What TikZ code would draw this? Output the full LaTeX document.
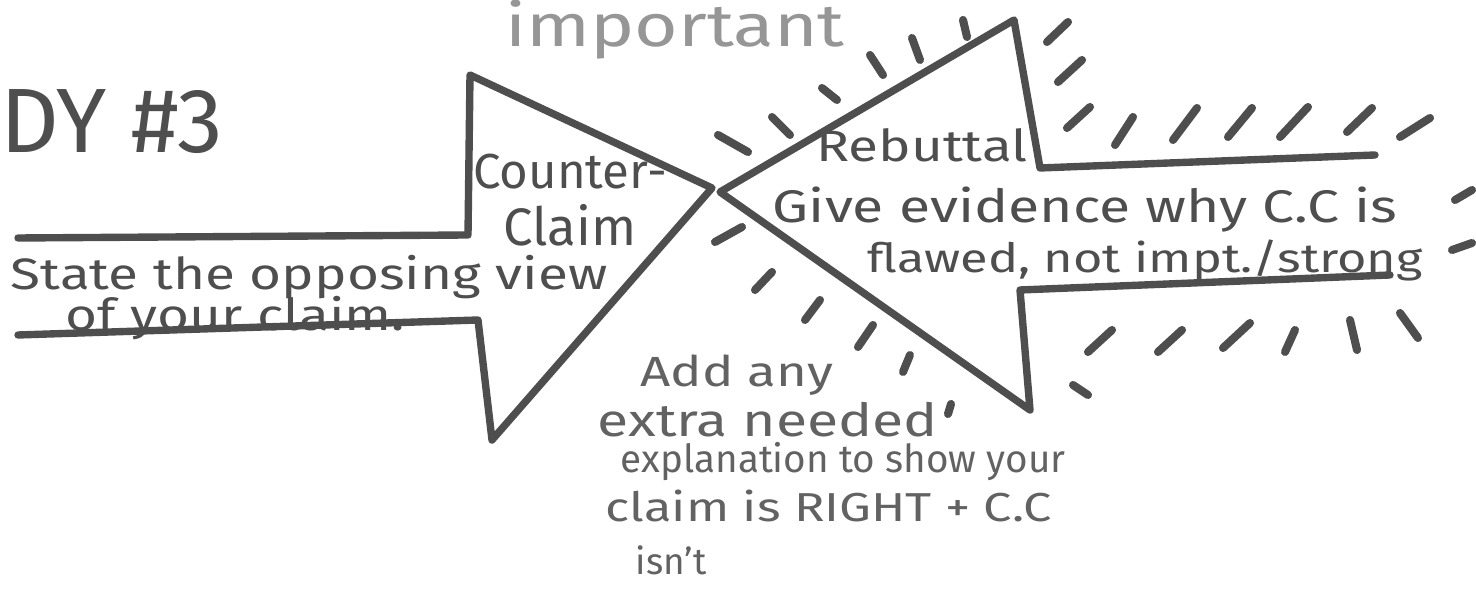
\documentclass[tikz,border=0pt]{standalone}
\usepackage{fontspec}
\setmainfont{Fira Sans}
\newfontfamily\widehand{Fira Sans}[FakeStretch=1.25]
\usepackage{tikz}
\usetikzlibrary{calc}
\usepackage{xcolor}
\definecolor{inkgrey}{RGB}{78,78,78}
\definecolor{softgrey}{RGB}{150,150,150}
\definecolor{pencilgrey}{RGB}{98,98,98}
\newcommand{\hand}[1]{\fontsize{#1}{#1}\selectfont}

\begin{document}
\begin{tikzpicture}[x=0.1mm,y=-0.1mm,
    outline/.style={inkgrey,line width=2.1pt,line join=round,line cap=round},
    ray/.style={inkgrey,line width=2.3pt,line cap=round},
    scrawl/.style={inkgrey,inner sep=0pt}]
  \useasboundingbox (0,0) rectangle (1476,592);
  % title and note on top
  \node[scrawl,font=\hand{26}] (title) at (112,122) {DY \#3};
  \node[scrawl,text=softgrey,font=\widehand\hand{17}] (note) at (675,30) {important};
  % counter-claim arrow
  \draw[outline] (18,238) -- (468,235) -- (470,75) -- (712,188)
    -- (492,440) -- (478,320) -- (18,335);
  \node[scrawl,font=\hand{14},align=center] (counter) at (570,200)
    {Counter-\\[2pt]{\hand{15}Claim}};
  \node[scrawl,font=\widehand\hand{12.5},anchor=west] (state) at (10,277)
    {State the opposing view};
  \node[scrawl,font=\widehand\hand{12.5},anchor=west] (ofclaim) at (65,318)
    {of your claim.};
  % rebuttal arrow
  \draw[outline] (1375,155) -- (1040,168) -- (1014,20) -- (720,192)
    -- (1030,410) -- (1020,290) -- (1390,275);
  \node[scrawl,font=\widehand\hand{12.5}] (rebuttal) at (922,145) {Rebuttal};
  \node[scrawl,font=\widehand\hand{13}] (evidence) at (1085,210)
    {Give evidence why C.C is};
  \node[scrawl,font=\widehand\hand{11.5}] (flawed) at (1145,261)
    {flawed, not impt./strong};
  % explanation underneath
  \node[scrawl,text=pencilgrey,font=\widehand\hand{12},anchor=west] (add) at (640,375)
    {Add any};
  \node[scrawl,text=pencilgrey,font=\widehand\hand{13},anchor=west] (extra) at (597,420)
    {extra needed};
  \node[scrawl,text=pencilgrey,font=\hand{11},anchor=west] (expl) at (620,462)
    {explanation to show your};
  \node[scrawl,text=pencilgrey,font=\widehand\hand{11.5},anchor=west] (right) at (605,506)
    {claim is RIGHT + C.C};
  \node[scrawl,text=pencilgrey,font=\hand{10.5},anchor=west] (isnt) at (635,560)
    {isn't};
  % rays round the rebuttal
  \foreach \xa/\ya/\xb/\yb in {718/135/748/152,772/117/790/135,822/88/837/100,
      870/55/883/75,912/38/920/60,963/20/967/37,
      1047/42/1068/22,1058/82/1082/60,1067/128/1090/107,
      1115/145/1133/117,1173/140/1197/108,1228/137/1252/108,
      1280/137/1308/107,1347/132/1372/108,1400/137/1430/118,
      1455/200/1472/190,1452/250/1472/243,
      1088/352/1112/330,1158/352/1182/330,1223/348/1250/323,
      1285/352/1295/330,1350/320/1357/350,1400/313/1418/338,
      1073/385/1088/395,
      715/242/742/227,755/290/772/272,805/320/820/300,
      858/347/873/325,903/372/910/355,948/414/951/404}
    \draw[ray] (\xa,\ya) -- (\xb,\yb);
\end{tikzpicture}
\end{document}
